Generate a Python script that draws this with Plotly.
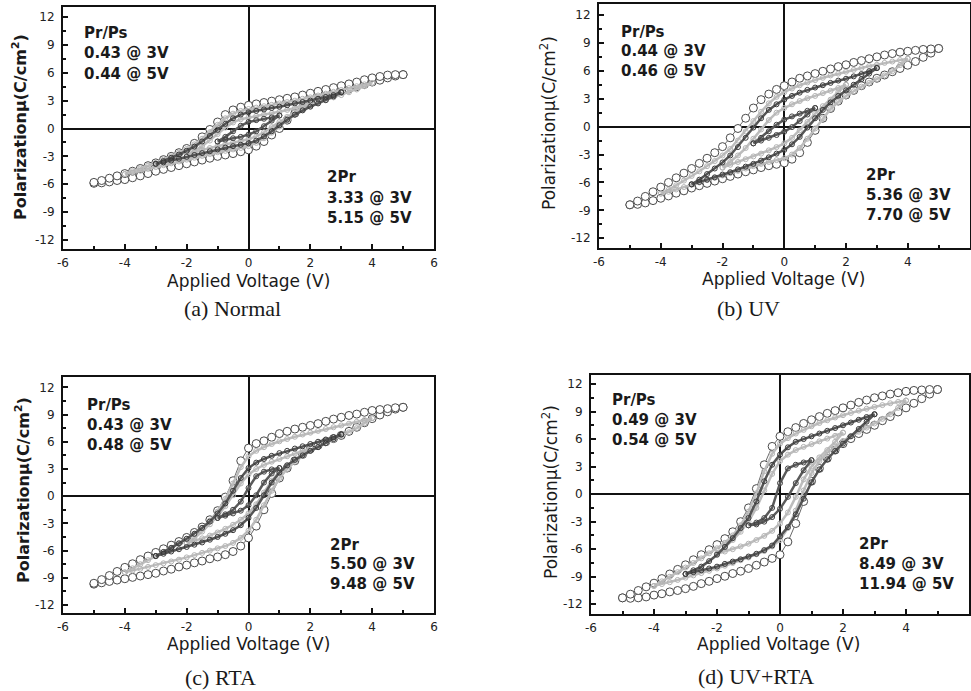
import plotly.graph_objects as go

W, H = 971, 691

# Applied voltage grid (V), shared by all loops
V5 = [-5.0, -4.75, -4.5, -4.25, -4.0, -3.75, -3.5, -3.25, -3.0, -2.75, -2.5, -2.25, -2.0, -1.75, -1.5,
      -1.25, -1.0, -0.75, -0.5, -0.25, 0.0, 0.25, 0.5, 0.75, 1.0, 1.25, 1.5, 1.75, 2.0, 2.25, 2.5, 2.75,
      3.0, 3.25, 3.5, 3.75, 4.0, 4.25, 4.5, 4.75, 5.0]
V4 = V5[4:-4]
V3 = V5[8:-8]
V2 = V5[12:-12]
V1 = V5[16:-16]

# ---------- (a) Normal ----------
a_up5 = [-5.8,-5.6,-5.35,-5.1,-4.85,-4.6,-4.3,-4.0,-3.7,-3.35,-3.0,-2.6,-2.15,-1.6,-0.9,-0.1,0.7,1.5,2.0,2.3,2.5,
         2.65,2.8,2.95,3.1,3.25,3.4,3.6,3.8,4.0,4.2,4.4,4.6,4.8,5.0,5.25,5.45,5.6,5.75,5.8,5.8]
a_lo5 = [-5.9,-5.85,-5.75,-5.6,-5.5,-5.3,-5.1,-4.85,-4.6,-4.4,-4.2,-4.0,-3.8,-3.6,-3.4,-3.2,-3.0,-2.85,-2.7,-2.5,
         -2.3,-1.9,-1.4,-0.7,0.0,0.9,1.65,2.25,2.7,3.05,3.4,3.7,4.0,4.25,4.5,4.75,5.0,5.2,5.45,5.65,5.8]
a_up4 = [-4.9,-4.6,-4.3,-4.0,-3.7,-3.35,-3.0,-2.6,-2.2,-1.7,-1.1,-0.4,0.4,1.1,1.6,1.9,2.1,2.25,2.4,2.55,2.7,
         2.85,3.0,3.2,3.35,3.55,3.75,3.95,4.15,4.35,4.55,4.75,4.9]
a_lo4 = [-4.9,-4.75,-4.55,-4.35,-4.15,-3.95,-3.75,-3.55,-3.35,-3.15,-2.95,-2.75,-2.55,-2.4,-2.25,-2.1,-1.9,
         -1.55,-1.05,-0.45,0.2,0.9,1.5,2.0,2.4,2.75,3.05,3.35,3.6,3.9,4.2,4.55,4.9]
a_up3 = [-3.8,-3.5,-3.15,-2.8,-2.4,-1.95,-1.4,-0.8,-0.15,0.5,1.1,1.5,1.75,1.9,2.05,2.2,2.35,2.5,2.7,2.85,3.0,
         3.2,3.4,3.6,3.9]
a_lo3 = [-3.8,-3.65,-3.45,-3.25,-3.05,-2.85,-2.65,-2.45,-2.25,-2.05,-1.9,-1.75,-1.6,-1.3,-0.85,-0.3,0.35,0.95,
         1.5,1.95,2.35,2.7,3.05,3.45,3.9]
a_up2 = [-2.8,-2.4,-1.9,-1.3,-0.6,0.1,0.65,1.0,1.2,1.35,1.5,1.65,1.8,2.0,2.2,2.5,2.8]
a_lo2 = [-2.8,-2.55,-2.3,-2.1,-1.9,-1.7,-1.5,-1.35,-1.15,-0.85,-0.4,0.15,0.7,1.25,1.75,2.25,2.8]
a_up1 = [-1.4,-0.9,-0.3,0.3,0.7,0.9,1.05,1.2,1.4]
a_lo1 = [-1.4,-1.2,-1.05,-0.9,-0.65,-0.3,0.25,0.85,1.4]

# ---------- (b) UV ----------
b_up5 = [-8.4,-8.0,-7.5,-7.0,-6.5,-6.0,-5.5,-5.0,-4.5,-3.95,-3.4,-2.8,-2.15,-1.2,-0.2,0.9,2.0,2.9,3.5,4.0,4.4,
         4.8,5.2,5.45,5.7,5.95,6.2,6.45,6.65,6.9,7.1,7.3,7.5,7.7,7.85,8.0,8.1,8.2,8.3,8.35,8.4]
b_lo5 = [-8.4,-8.35,-8.2,-7.95,-7.7,-7.45,-7.15,-6.9,-6.6,-6.35,-6.1,-5.85,-5.6,-5.35,-5.1,-4.85,-4.65,-4.4,
         -4.2,-4.05,-3.9,-3.5,-2.8,-1.7,-0.4,0.9,1.95,2.75,3.4,3.9,4.4,4.8,5.2,5.55,5.9,6.25,6.6,7.0,7.45,7.9,8.4]
b_up4 = [-7.2,-6.8,-6.3,-5.8,-5.3,-4.8,-4.25,-3.7,-3.1,-2.4,-1.5,-0.5,0.6,1.6,2.5,3.2,3.7,4.1,4.45,4.75,5.0,
         5.25,5.5,5.7,5.9,6.1,6.3,6.5,6.65,6.85,7.0,7.15,7.3]
b_lo4 = [-7.2,-7.0,-6.75,-6.5,-6.25,-6.0,-5.75,-5.5,-5.25,-5.0,-4.75,-4.5,-4.25,-4.0,-3.8,-3.6,-3.4,-3.0,-2.3,
         -1.3,-0.2,0.9,1.9,2.65,3.3,3.8,4.3,4.7,5.1,5.5,5.95,6.6,7.3]
b_up3 = [-6.2,-5.7,-5.1,-4.5,-3.85,-3.1,-2.2,-1.2,-0.1,0.9,1.8,2.4,2.9,3.3,3.65,3.95,4.2,4.45,4.7,4.95,5.15,
         5.4,5.65,5.95,6.3]
b_lo3 = [-6.2,-5.95,-5.7,-5.45,-5.15,-4.9,-4.6,-4.3,-4.0,-3.65,-3.3,-2.9,-2.5,-1.9,-1.1,-0.1,0.9,1.8,2.6,3.3,
         3.9,4.5,5.1,5.7,6.3]
b_up2 = [-4.4,-3.8,-3.1,-2.3,-1.3,-0.3,0.7,1.5,2.0,2.4,2.75,3.05,3.3,3.6,3.85,4.15,4.5]
b_lo2 = [-4.4,-4.1,-3.8,-3.5,-3.2,-2.9,-2.55,-2.2,-1.8,-1.2,-0.4,0.5,1.4,2.2,2.9,3.7,4.5]
b_up1 = [-1.8,-1.2,-0.5,0.2,0.75,1.1,1.4,1.7,2.0]
b_lo1 = [-1.8,-1.5,-1.2,-0.9,-0.55,-0.05,0.6,1.3,2.0]

# ---------- (c) RTA ----------
c_up5 = [-9.6,-9.2,-8.75,-8.3,-7.85,-7.45,-7.0,-6.6,-6.2,-5.8,-5.4,-5.0,-4.55,-4.0,-3.4,-2.6,-1.6,-0.1,1.7,3.9,
         5.3,5.8,6.1,6.5,6.9,7.15,7.4,7.6,7.8,8.0,8.25,8.5,8.7,8.9,9.05,9.25,9.45,9.55,9.65,9.75,9.8]
c_lo5 = [-9.7,-9.55,-9.4,-9.25,-9.1,-8.95,-8.8,-8.65,-8.5,-8.25,-8.05,-7.8,-7.6,-7.35,-7.15,-6.9,-6.7,-6.45,
         -6.1,-5.5,-4.6,-3.3,-1.5,0.3,2.0,3.1,3.9,4.6,5.2,5.6,6.0,6.35,6.7,7.15,7.6,8.1,8.55,8.95,9.3,9.6,9.8]
c_up4 = [-8.4,-7.95,-7.5,-7.05,-6.6,-6.15,-5.7,-5.2,-4.7,-4.15,-3.5,-2.7,-1.7,-0.3,1.4,3.2,4.4,5.0,5.4,5.75,
         6.05,6.3,6.55,6.8,7.0,7.2,7.4,7.6,7.8,8.0,8.2,8.4,8.6]
c_lo4 = [-8.4,-8.2,-8.0,-7.8,-7.6,-7.4,-7.2,-7.0,-6.75,-6.5,-6.25,-6.0,-5.75,-5.5,-5.15,-4.6,-3.8,-2.6,-1.0,
         0.6,2.0,3.0,3.8,4.45,5.0,5.45,5.85,6.25,6.65,7.05,7.5,8.05,8.6]
c_up3 = [-6.6,-6.15,-5.7,-5.2,-4.7,-4.15,-3.5,-2.8,-1.9,-0.8,0.6,2.0,3.1,3.7,4.1,4.45,4.75,5.0,5.25,5.5,5.75,
         6.0,6.25,6.5,6.8]
c_lo3 = [-6.6,-6.35,-6.1,-5.85,-5.6,-5.35,-5.1,-4.8,-4.5,-4.15,-3.75,-3.2,-2.4,-1.3,0.1,1.5,2.6,3.4,4.0,4.5,
         5.0,5.4,5.85,6.3,6.8]
c_up2 = [-5.2,-4.6,-3.9,-3.1,-2.2,-1.1,0.1,1.4,2.4,3.0,3.45,3.8,4.1,4.4,4.7,5.0,5.3]
c_lo2 = [-5.2,-4.95,-4.65,-4.35,-4.0,-3.6,-3.15,-2.6,-1.9,-0.9,0.4,1.7,2.7,3.4,4.0,4.65,5.3]
c_up1 = [-2.4,-2.0,-1.5,-0.6,0.9,2.2,2.7,2.95,3.1]
c_lo1 = [-2.4,-2.15,-1.9,-1.6,-1.0,0.1,1.5,2.5,3.1]

# ---------- (d) UV+RTA ----------
d_up5 = [-11.3,-10.9,-10.5,-10.1,-9.7,-9.2,-8.7,-8.2,-7.7,-7.15,-6.6,-6.05,-5.5,-4.85,-4.1,-3.0,-1.5,0.6,3.2,
         5.2,6.3,6.8,7.25,7.7,8.1,8.45,8.8,9.1,9.4,9.7,10.0,10.25,10.5,10.7,10.9,11.05,11.2,11.3,11.35,11.4,11.4]
d_lo5 = [-11.3,-11.35,-11.3,-11.2,-11.0,-10.85,-10.65,-10.5,-10.3,-10.05,-9.75,-9.5,-9.2,-8.95,-8.65,-8.4,-8.1,
         -7.75,-7.4,-7.0,-6.6,-5.2,-3.2,-0.8,1.4,2.8,3.9,4.8,5.5,6.05,6.6,7.05,7.5,8.0,8.45,8.95,9.4,9.9,10.4,
         10.9,11.4]
d_up4 = [-10.0,-9.5,-9.0,-8.5,-8.0,-7.5,-7.0,-6.45,-5.9,-5.3,-4.5,-3.4,-1.9,0.1,2.5,4.4,5.5,6.1,6.6,7.0,7.4,
         7.75,8.05,8.35,8.6,8.85,9.1,9.3,9.5,9.7,9.9,10.05,10.2]
d_lo4 = [-10.0,-9.8,-9.6,-9.35,-9.1,-8.85,-8.6,-8.35,-8.1,-7.8,-7.5,-7.2,-6.9,-6.55,-6.2,-5.7,-5.0,-3.7,-1.8,
         0.4,2.3,3.6,4.5,5.2,5.8,6.3,6.8,7.25,7.7,8.2,8.7,9.4,10.2]
d_up3 = [-8.7,-8.3,-7.9,-7.3,-6.6,-5.75,-4.8,-3.7,-2.6,-0.8,1.4,3.2,4.3,5.1,5.7,6.0,6.3,6.6,6.9,7.2,7.5,7.8,
         8.1,8.4,8.7]
d_lo3 = [-8.7,-8.5,-8.3,-8.1,-7.9,-7.6,-7.35,-7.1,-6.8,-6.5,-6.1,-5.6,-4.6,-3.6,-2.2,-0.5,1.3,2.7,3.8,4.7,
         5.5,6.3,7.1,7.9,8.7]
d_up2 = [-6.5,-5.8,-5.0,-4.1,-3.0,-1.5,0.4,2.2,3.6,4.3,4.8,5.15,5.45,5.75,6.05,6.35,6.7]
d_lo2 = [-6.5,-6.25,-6.0,-5.7,-5.4,-5.0,-4.55,-4.0,-3.2,-2.0,-0.3,1.6,3.0,4.0,4.8,5.7,6.7]
d_up1 = [-3.4,-3.1,-2.6,-1.5,1.2,2.8,3.2,3.45,3.7]
d_lo1 = [-3.4,-3.3,-3.0,-2.5,-1.6,-0.3,1.2,2.6,3.7]

# Text labels
captions = ["(a) Normal", "(b) UV", "(c) RTA", "(d) UV+RTA"]
prps_lines = [["Pr/Ps", "0.43 @ 3V", "0.44 @ 5V"], ["Pr/Ps", "0.44 @ 3V", "0.46 @ 5V"],
              ["Pr/Ps", "0.43 @ 3V", "0.48 @ 5V"], ["Pr/Ps", "0.49 @ 3V", "0.54 @ 5V"]]
twopr_lines = [["2Pr", "3.33 @ 3V", "5.15 @ 5V"], ["2Pr", "5.36 @ 3V", "7.70 @ 5V"],
               ["2Pr", "5.50 @ 3V", "9.48 @ 5V"], ["2Pr", "8.49 @ 3V", "11.94 @ 5V"]]
x_ticks = [-6, -4, -2, 0, 2, 4, 6]
y_ticks = [-12, -9, -6, -3, 0, 3, 6, 9, 12]
x_title = "Applied Voltage (V)"
y_title = "Polarizationμ(C/cm<sup>2</sup>)"

grids = [V5, V4, V3, V2, V1]
panel_data = [
    ([a_up5, a_up4, a_up3, a_up2, a_up1], [a_lo5, a_lo4, a_lo3, a_lo2, a_lo1]),
    ([b_up5, b_up4, b_up3, b_up2, b_up1], [b_lo5, b_lo4, b_lo3, b_lo2, b_lo1]),
    ([c_up5, c_up4, c_up3, c_up2, c_up1], [c_lo5, c_lo4, c_lo3, c_lo2, c_lo1]),
    ([d_up5, d_up4, d_up3, d_up2, d_up1], [d_lo5, d_lo4, d_lo3, d_lo2, d_lo1]),
]

# layout geometry (pixels): left, right, top, bottom of each plot area, y range
geo = [
    dict(l=63, r=434, t=7, b=249, yr=[-12.97, 13.08], cap=(232, 309), xt=(248.5, 281), yt=(20, 127), bold=True),
    dict(l=599, r=969.5, t=4, b=247.5, yr=[-12.99, 13.18], cap=(748.5, 309), xt=(783.5, 279), yt=(548, 123), bold=False),
    dict(l=63, r=434, t=377, b=613, yr=[-12.88, 13.14], cap=(220, 677), xt=(248.5, 644), yt=(22, 490), bold=True),
    dict(l=591, r=969, t=375, b=614, yr=[-13.06, 12.98], cap=(756, 676), xt=(778.5, 644), yt=(550, 492), bold=False),
]
# text block anchors in data coords: (x_left, y of first line, line step)
prps_pos = [(-5.37, 10.3, 2.2), (-5.36, 10.2, 2.1), (-5.3, 10.05, 2.2), (-5.4, 10.26, 2.2)]
twopr_pos = [(2.48, -5.19, 2.24), (2.59, -5.19, 2.16), (2.58, -5.38, 2.15), (2.43, -5.46, 2.16)]

# loop styles: 5V, 4V, 3V, 2V, 1V
styles = [
    dict(mc='white', lc='#4a4a4a', size=8, lw=1, linec='#6a6a6a', linew=1),
    dict(mc='rgba(0,0,0,0)', lc='#b4b4b4', size=5, lw=1, linec='#bdbdbd', linew=2.5),
    dict(mc='rgba(0,0,0,0)', lc='#3a3a3a', size=5, lw=1, linec='#555555', linew=2.5),
    dict(mc='rgba(0,0,0,0)', lc='#b4b4b4', size=5, lw=1, linec='#bdbdbd', linew=2.5),
    dict(mc='rgba(0,0,0,0)', lc='#444444', size=5, lw=1, linec='#5a5a5a', linew=2.5),
]
draw_order = [0, 1, 3, 2, 4]

fig = go.Figure()
annotations = []
layout_axes = {}

for p in range(4):
    g = geo[p]
    sfx = '' if p == 0 else str(p + 1)
    xa, ya = 'x' + sfx, 'y' + sfx
    ups, los = panel_data[p]
    for k in draw_order:
        st = styles[k]
        V = grids[k]
        xs = list(V) + list(V[::-1])
        ys = list(los[k]) + list(ups[k][::-1])
        fig.add_trace(go.Scatter(
            x=xs, y=ys, xaxis=xa, yaxis=ya, mode='lines+markers',
            line=dict(color=st['linec'], width=st['linew']),
            marker=dict(symbol='circle', size=st['size'], color=st['mc'],
                        line=dict(color=st['lc'], width=st['lw'])),
            showlegend=False, hoverinfo='skip'))

    axline = dict(showgrid=False, zeroline=True, zerolinecolor='#111', zerolinewidth=2,
                  showline=True, linecolor='#111', linewidth=2, mirror=True, automargin=False,
                  ticks='inside', ticklen=5, tickwidth=1.5, tickcolor='#111',
                  tickfont=dict(family='DejaVu Sans', size=12, color='#222'))
    layout_axes['xaxis' + sfx] = dict(
        axline, domain=[g['l'] / W, g['r'] / W], range=[-6, 6], anchor=ya,
        tickmode='array', tickvals=x_ticks, ticktext=[str(v) for v in x_ticks],
        ticklabelstandoff=2,
        minor=dict(tickmode='array', tickvals=[-5, -3, -1, 1, 3, 5], ticks='inside', ticklen=3,
                   tickwidth=1.5, tickcolor='#111'))
    layout_axes['yaxis' + sfx] = dict(
        axline, domain=[1 - g['b'] / H, 1 - g['t'] / H], range=g['yr'], anchor=xa,
        tickmode='array', tickvals=y_ticks, ticktext=[str(v) for v in y_ticks],
        ticklabelstandoff=4,
        minor=dict(tickmode='array', tickvals=[-10.5, -7.5, -4.5, -1.5, 1.5, 4.5, 7.5, 10.5],
                   ticks='inside', ticklen=3, tickwidth=1.5, tickcolor='#111'))

    # axis titles & caption (paper coords from pixel positions)
    annotations.append(dict(text=x_title, x=g['xt'][0] / W, y=1 - g['xt'][1] / H, xref='paper', yref='paper',
                            showarrow=False, xanchor='center', yanchor='middle',
                            font=dict(family='DejaVu Sans', size=17, color='#1a1a1a')))
    annotations.append(dict(text=y_title, x=g['yt'][0] / W, y=1 - g['yt'][1] / H, xref='paper', yref='paper',
                            showarrow=False, xanchor='center', yanchor='middle', textangle=-90,
                            font=dict(family='DejaVu Sans', size=16 if g['bold'] else 17, color='#1a1a1a',
                                      weight='bold' if g['bold'] else 'normal')))
    annotations.append(dict(text=captions[p], x=g['cap'][0] / W, y=1 - g['cap'][1] / H, xref='paper',
                            yref='paper', showarrow=False, xanchor='center', yanchor='middle',
                            font=dict(family='Liberation Serif', size=22, color='#1a1a1a')))
    # data text blocks
    for lines, pos in ((prps_lines[p], prps_pos[p]), (twopr_lines[p], twopr_pos[p])):
        x0, y0, dy = pos
        for i, t in enumerate(lines):
            annotations.append(dict(text=t, x=x0, y=y0 - i * dy, xref=xa, yref=ya, showarrow=False,
                                    xanchor='left', yanchor='middle',
                                    font=dict(family='DejaVu Sans', size=15, color='#1a1a1a', weight='bold')))

fig.update_layout(
    width=W, height=H, margin=dict(l=0, r=0, t=0, b=0),
    paper_bgcolor='white', plot_bgcolor='white', showlegend=False,
    annotations=annotations, **layout_axes)

fig.write_html("out.html", config={'displayModeBar': False},
               post_script="document.body.style.margin='0px';")
